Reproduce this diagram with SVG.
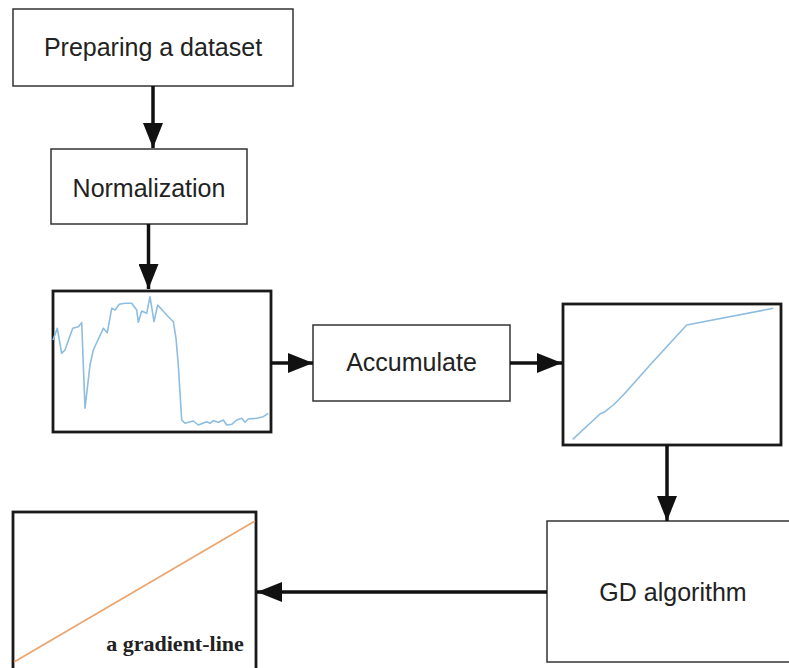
<svg xmlns="http://www.w3.org/2000/svg" width="789" height="668" viewBox="0 0 789 668">
<style>
.box{fill:#fff;stroke:#333;stroke-width:1.5}
.plot{fill:#fff;stroke:#1a1a1a;stroke-width:2.8}
.lbl{font-family:"Liberation Sans",Arial,sans-serif;font-size:25px;fill:#222;text-anchor:middle}
.conn{stroke:#111;stroke-width:3.5;fill:none;marker-end:url(#ah)}
</style>
<defs>
<marker id="ah" markerUnits="userSpaceOnUse" markerWidth="25" markerHeight="20" refX="25" refY="10" orient="auto" viewBox="0 0 25 20">
<path d="M0,0 L25,10 L0,20 z" fill="#111"/>
</marker>
</defs>
<rect width="789" height="668" fill="#fff"/>
<g id="n-prepare">
<rect class="box" x="13" y="9" width="280" height="77"/>
<text class="lbl" x="153" y="56">Preparing a dataset</text>
</g>
<g id="n-normalization">
<rect class="box" x="51" y="149" width="196" height="75"/>
<text class="lbl" x="149" y="197">Normalization</text>
</g>
<g id="n-plot-raw">
<rect class="plot" x="53" y="291" width="218" height="141"/>
<polyline fill="none" stroke="#8dbde0" stroke-width="1.6" stroke-linejoin="round" points="53,340 57.3,328.3 61.7,353.3 65,350 72.7,328.3 78.3,326.7 81.7,322.7 85,408.3 90,365 93.3,350 103.3,328.3 107.3,332.7 111.7,308.3 115,310 119.3,304.3 125,303.3 131.7,303.3 136.7,310 138.3,322.3 141.7,311 146.7,313.3 150,296.7 154,321.7 157.7,305 168.3,316.7 173.3,321.7 176,338.3 178.3,365 181.7,420 185,423.3 193.3,421 198.3,425 206.7,421.7 210,423.3 213.3,420.7 218.3,422.3 223.3,420 226.7,425 231.7,424.3 236.7,420 241.7,418.3 245,422.3 248.3,419 256.7,418.3 263.3,416.7 268.3,413.3"/>
</g>
<g id="n-accumulate">
<rect class="box" x="313" y="325" width="197" height="76"/>
<text class="lbl" x="411.5" y="371">Accumulate</text>
</g>
<g id="n-plot-acc">
<rect class="plot" x="563" y="304" width="218" height="141"/>
<polyline fill="none" stroke="#8dbde0" stroke-width="1.6" stroke-linejoin="round" points="572.7,439.3 600,414 605,411.7 613.3,405 623.3,395 636.7,380 650,365 666.7,346.7 686.7,325 773.3,308.3"/>
</g>
<g id="n-gd">
<rect class="box" x="547" y="521" width="260" height="141"/>
<text class="lbl" x="673" y="601">GD algorithm</text>
</g>
<g id="n-plot-grad">
<rect class="plot" x="13" y="512" width="243" height="170"/>
<line x1="14" y1="662" x2="255" y2="521" stroke="#eaa671" stroke-width="1.8"/>
<text x="175" y="651" font-family="'Liberation Serif','Times New Roman',serif" font-weight="bold" font-size="22" fill="#222" text-anchor="middle">a gradient-line</text>
</g>
<g id="connectors">
<line class="conn" x1="153" y1="86" x2="153" y2="148"/>
<line class="conn" x1="148.5" y1="224" x2="148.5" y2="289"/>
<line class="conn" x1="271" y1="363" x2="313" y2="363"/>
<line class="conn" x1="510" y1="363" x2="562" y2="363"/>
<line class="conn" x1="667" y1="445" x2="667" y2="521"/>
<line class="conn" x1="547" y1="592" x2="257" y2="592"/>
</g>
</svg>
